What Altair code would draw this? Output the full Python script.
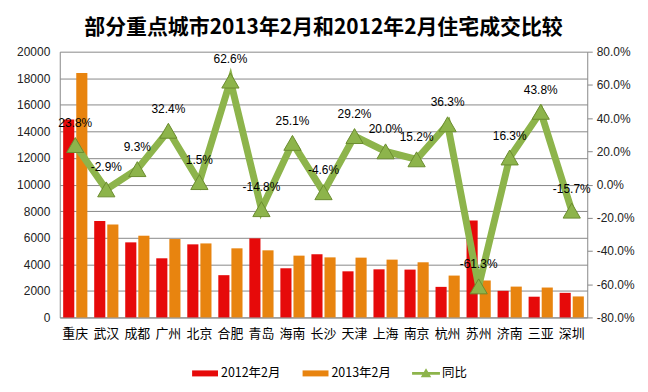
import altair as alt
import pandas as pd

CJK = "Noto Sans CJK SC"
NUM = "Liberation Sans"

cities = ["重庆", "武汉", "成都", "广州", "北京", "合肥", "青岛", "海南", "长沙",
          "天津", "上海", "南京", "杭州", "苏州", "济南", "三亚", "深圳"]
series_names = ["2012年2月", "2013年2月", "同比"]
feb2012 = [14900, 7250, 5650, 4450, 5500, 3180, 5950, 3700, 4750,
           3470, 3620, 3600, 2300, 7300, 2000, 1560, 1850]
feb2013 = [18400, 7000, 6150, 5900, 5570, 5200, 5050, 4650, 4520,
           4500, 4350, 4150, 3150, 2780, 2320, 2250, 1580]
yoy = [0.238, -0.029, 0.093, 0.324, 0.015, 0.626, -0.148, 0.251, -0.046,
       0.292, 0.200, 0.152, 0.363, -0.613, 0.163, 0.438, -0.157]
left_ticks = list(range(0, 20001, 2000))
right_ticks = [-0.8, -0.6, -0.4, -0.2, 0.0, 0.2, 0.4, 0.6, 0.8]

RED = "#E60A0A"
ORANGE = "#E8840F"
GREEN = "#8DB44B"

rows = []
for c, a, b in zip(cities, feb2012, feb2013):
    rows.append({"city": c, "series": series_names[0], "value": a})
    rows.append({"city": c, "series": series_names[1], "value": b})
df_bars = pd.DataFrame(rows)

df_line = pd.DataFrame({
    "city": cities,
    "yoy": yoy,
    "series": [series_names[2]] * len(cities),
    "label": [f"{v * 100:.1f}%" for v in yoy],
})
# legend-only rows (one per series), drawn invisibly
df_legend = pd.DataFrame({
    "city": [cities[0]] * 3,
    "yoy": [0.0] * 3,
    "series": series_names,
})

x = alt.X("city:N", sort=cities,
          scale=alt.Scale(paddingInner=0.22, paddingOuter=0.11),
          axis=alt.Axis(title=None, labelAngle=0, ticks=False, labelFont=CJK,
                        labelFontSize=13, labelColor="#000", labelPadding=10,
                        domainColor="#888888"))

rect_path = "M-1.86,-0.43H1.86V0.43H-1.86Z"
line_path = "M-2,-0.2H2V0.2H-2Z M0,-0.75L0.75,0.55H-0.75Z"

legend = alt.Legend(
    title=None, orient="none", legendX=139, legendY=316,
    direction="horizontal", symbolSize=196, labelOffset=9,
    columnPadding=21, labelFont=CJK, labelFontSize=12.5, labelColor="#000",
    padding=0, symbolStrokeWidth=0, symbolOpacity=1,
)
color_scale = alt.Scale(domain=series_names, range=[RED, ORANGE, GREEN])
color = alt.Color("series:N", scale=color_scale, legend=legend)
shape = alt.Shape("series:N",
                  scale=alt.Scale(domain=series_names,
                                  range=[rect_path, rect_path, line_path]),
                  legend=legend)

bars = alt.Chart(df_bars).mark_bar().encode(
    x=x,
    xOffset=alt.XOffset("series:N", sort=series_names[:2],
                        scale=alt.Scale(paddingInner=0.15)),
    y=alt.Y("value:Q", scale=alt.Scale(domain=[0, 20000]),
            axis=alt.Axis(values=left_ticks, format="d", title=None, grid=True,
                          gridColor="#888888", ticks=False, labelPadding=10,
                          labelFont=NUM, labelFontSize=12, labelColor="#222",
                          domainColor="#888888")),
    color=color,
)

y2 = alt.Y("yoy:Q", scale=alt.Scale(domain=[-0.8, 0.8]),
           axis=alt.Axis(orient="right", values=right_ticks, format=".1%",
                         labelExpr="replace(datum.label, '\u2212', '-')",
                         grid=False, title=None, tickSize=5,
                         tickColor="#888888", domainColor="#888888",
                         labelPadding=4, labelFont=NUM, labelFontSize=12,
                         labelColor="#222"))

line = alt.Chart(df_line).mark_line(color=GREEN, strokeWidth=7).encode(x=x, y=y2)
points = alt.Chart(df_line).mark_point(
    filled=True, shape="triangle-up", size=300, opacity=1,
    stroke="#6B8C2F", strokeWidth=1, color=GREEN
).encode(x=x, y=y2)
labels = alt.Chart(df_line).mark_text(
    dy=-22, fontSize=12, font=NUM, color="#000"
).encode(x=x, y=y2, text="label:N")
legend_layer = alt.Chart(df_legend).mark_point(
    filled=True, size=0, opacity=0
).encode(x=x, y=y2, color=color, shape=shape)

right = alt.layer(line, points, labels, legend_layer)

chart = alt.layer(bars, right).resolve_scale(y="independent").properties(
    width=530, height=267,
    padding={"left": 8, "top": 8, "right": 5, "bottom": 5},
    background="white",
    title=alt.TitleParams(
        "部分重点城市2013年2月和2012年2月住宅成交比较",
        font=CJK, fontSize=21, fontWeight="bold", color="#000",
        anchor="middle", frame="group", offset=8,
    ),
).configure_view(stroke=None)

chart.save("out.html", embed_options={"renderer": "svg", "actions": False})
